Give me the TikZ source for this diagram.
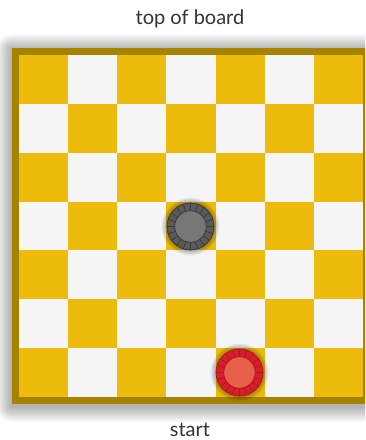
\documentclass[tikz,border=0pt]{standalone}
\usepackage{fontspec}
\setmainfont{Lato}
\definecolor{bordercol}{HTML}{A58200}
\definecolor{goldsq}{HTML}{EDBB0C}
\definecolor{whitesq}{HTML}{F5F5F5}
\definecolor{txtcol}{HTML}{333333}
\definecolor{grayring}{HTML}{5A5A5A}
\definecolor{grayline}{HTML}{3A3A3A}
\definecolor{grayin}{HTML}{777777}
\definecolor{redring}{HTML}{D81E2A}
\definecolor{redline}{HTML}{AE1620}
\definecolor{redin}{HTML}{E8604A}
\newcommand\ckpiece[5]{%
  \begin{scope}[shift={(#1,#2)}]
    \foreach \s in {1,...,6}{\fill[black,opacity=0.05] (0,0) circle (23.5+\s*0.9);}
    \fill[#3,draw=#4,line width=0.8pt] (0,0) circle (23.5);
    \foreach \a in {0,18,...,342}{\draw[#4,line width=0.7pt] (\a:15.8) -- (\a:23.5);}
    \fill[#5,draw=#4,line width=0.8pt] (0,0) circle (15.8);
  \end{scope}}
\tikzset{lbl/.style={font=\fontsize{20}{24}\selectfont,text=txtcol,inner sep=0pt}}
\begin{document}
\begin{tikzpicture}[x=1pt,y=-1pt]
\useasboundingbox (0,0) rectangle (365,440);
\clip (0,0) rectangle (365,440);
\fill[white] (0,0) rectangle (365,440);
\foreach \i in {1,...,16}{\fill[black,opacity=0.018,rounded corners=\i pt] (12-\i,48-\i+2) rectangle (370+\i,404+\i+2);}
\fill[bordercol] (12,48) rectangle (370,404);
\foreach \r in {0,...,6}{\foreach \c in {0,...,6}{%
  \pgfmathparse{mod(\r+\c,2)==0 ? 1 : 0}
  \ifnum\pgfmathresult=1 \def\sqcol{goldsq}\else\def\sqcol{whitesq}\fi
  \fill[\sqcol] (19+\c*49.14,55+\r*48.86) rectangle (19+\c*49.14+49.14,55+\r*48.86+48.86);
}}
\ckpiece{190.5}{226.5}{grayring}{grayline}{grayin}
\ckpiece{239.5}{372.5}{redring}{redline}{redin}
\node[lbl] (top) at (190,19) {top of board};
\node[lbl,anchor=base] (start) at (190,436) {start};
\end{tikzpicture}
\end{document}
